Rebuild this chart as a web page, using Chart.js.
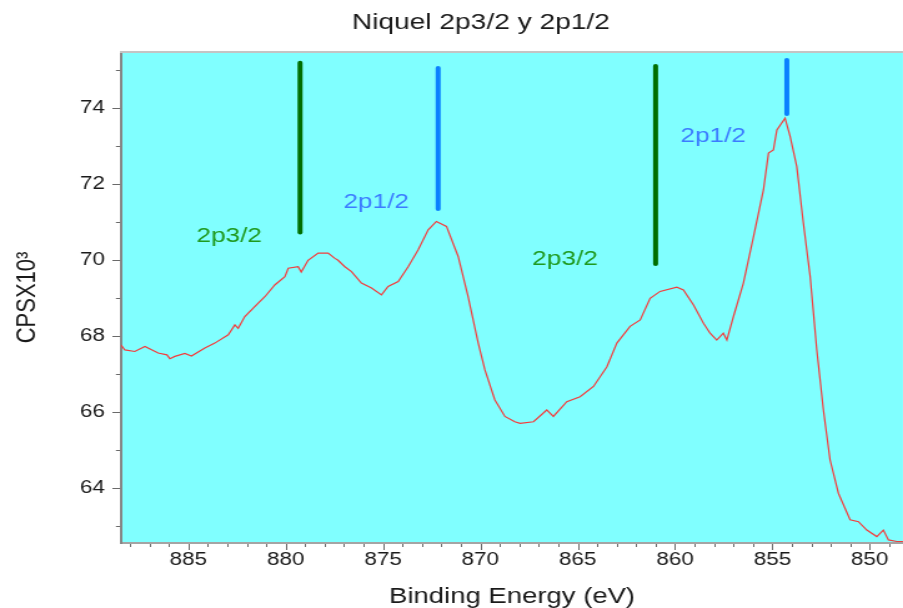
<!DOCTYPE html>
<html><head><meta charset="utf-8">
<script src="https://cdn.jsdelivr.net/npm/chart.js@4/dist/chart.umd.min.js"></script>
<style>
html,body{margin:0;padding:0;background:#fff;overflow:hidden;width:903px;height:608px;}
#wrap{width:770px;height:608px;transform:scaleX(1.249);transform-origin:0 0;}
canvas{display:block;}
</style></head><body>
<div id="wrap"><canvas id="c" width="770" height="608"></canvas></div>
<script>
// Binding energy (eV) and counts (CPS x 10^3)
const energy = [888.45, 888.26, 887.75, 887.23, 886.55, 886.10, 885.95, 885.69, 885.18, 884.84, 884.15, 883.64, 882.95,
  882.61, 882.44, 882.10, 881.41, 881.07, 880.56, 880.04, 879.87, 879.36, 879.20, 878.85, 878.33,
  877.82, 877.47, 877.31, 876.96, 876.62, 876.11, 875.59, 875.08, 874.74, 874.22, 873.71,
  873.20, 872.68, 872.26, 871.74, 871.14, 870.63, 870.11, 869.77, 869.26, 868.74,
  868.23, 867.96, 867.27, 866.59, 866.25, 865.56, 864.88, 864.19, 863.50, 862.99,
  862.31, 861.79, 861.28, 860.77, 859.91, 859.57, 859.06, 858.54, 858.20, 857.86, 857.52,
  857.34, 857.00, 856.49, 855.97, 855.46, 855.20, 854.95, 854.77, 854.35, 854.09,
  853.75, 853.41, 853.06, 852.72, 852.38, 852.04, 851.61, 851.01, 850.58, 850.15,
  849.64, 849.30, 849.04, 848.61, 848.29];
const counts = [67.76, 67.63, 67.59, 67.72, 67.55, 67.50, 67.40, 67.46, 67.54, 67.47, 67.68, 67.81, 68.03,
  68.29, 68.20, 68.51, 68.86, 69.03, 69.34, 69.56, 69.78, 69.82, 69.68, 69.99, 70.18,
  70.18, 70.04, 69.99, 69.82, 69.69, 69.39, 69.26, 69.08, 69.30, 69.43, 69.82,
  70.26, 70.79, 71.01, 70.88, 70.09, 69.03, 67.81, 67.11, 66.32, 65.88,
  65.74, 65.70, 65.74, 66.05, 65.88, 66.27, 66.40, 66.67, 67.19, 67.81,
  68.25, 68.42, 68.99, 69.17, 69.28, 69.21, 68.82, 68.33, 68.07, 67.89, 68.07,
  67.89, 68.51, 69.39, 70.61, 71.84, 72.81, 72.89, 73.42, 73.73, 73.25,
  72.46, 70.97, 69.56, 67.63, 66.05, 64.74, 63.86, 63.16, 63.11, 62.89,
  62.72, 62.89, 62.63, 62.59, 62.59];

const xTickLabels = [885, 880, 875, 870, 865, 860, 855, 850];
const yTickLabels = [64, 66, 68, 70, 72, 74];

// Peak marker bars
const markerEnergy = [879.26, 872.17, 861.00, 854.26];
const markerLow    = [70.72, 71.34, 69.89, 73.84];
const markerHigh   = [75.19, 75.05, 75.10, 75.26];
const markerName   = ['2p3/2', '2p1/2', '2p3/2', '2p1/2'];

// Annotation text anchors (data units)
const labelAnchors = [
  {text: '2p3/2', x: 882.9,  y: 70.61},
  {text: '2p1/2', x: 875.35, y: 71.53},
  {text: '2p3/2', x: 865.65, y: 70.03},
  {text: '2p1/2', x: 858.04, y: 73.26}
];

const X_MIN = 848.29, X_MAX = 888.45, Y_MIN = 62.55, Y_MAX = 75.47;
const FONT = '"Liberation Sans", Arial, sans-serif';
const BAR_COLOR = {'2p3/2': '#006e00', '2p1/2': '#0a80ff'};
const TEXT_COLOR = {'2p3/2': '#1f9a1f', '2p1/2': '#3c7cff'};

const datasets = [{
  data: energy.map((e, i) => ({x: e, y: counts[i]})),
  borderColor: '#f43c3c', borderWidth: 1.2, pointRadius: 0, tension: 0
}];
markerEnergy.forEach((e, i) => {
  datasets.push({
    data: [{x: e, y: markerLow[i]}, {x: e, y: markerHigh[i]}],
    borderColor: BAR_COLOR[markerName[i]], borderWidth: 4, borderCapStyle: 'round',
    pointRadius: 0
  });
});

const decor = {
  id: 'decor',
  beforeDraw(chart) {
    const {ctx, chartArea: a} = chart;
    ctx.save();
    ctx.fillStyle = '#80ffff';
    ctx.fillRect(a.left, a.top, a.right - a.left, a.bottom - a.top);
    ctx.restore();
  },
  afterDraw(chart) {
    const {ctx, chartArea: a, scales: {x, y}} = chart;
    ctx.save();
    ctx.strokeStyle = '#c4c4c4'; ctx.lineWidth = 2;
    ctx.beginPath(); ctx.moveTo(a.left - 1, a.top); ctx.lineTo(a.right, a.top); ctx.stroke();
    ctx.strokeStyle = '#6a6a6a'; ctx.lineWidth = 1;
    for (let v = Math.ceil(x.min); v <= Math.floor(x.max); v++) {
      const px = Math.round(x.getPixelForValue(v)) + 0.5;
      const len = v % 5 === 0 ? 6 : 3;
      ctx.beginPath(); ctx.moveTo(px, a.bottom + 1); ctx.lineTo(px, a.bottom + 1 + len); ctx.stroke();
    }
    for (let v = Math.ceil(y.min); v <= Math.floor(y.max); v++) {
      const py = Math.round(y.getPixelForValue(v)) + 0.5;
      const len = v % 2 === 0 ? 6 : 3.2;
      ctx.beginPath(); ctx.moveTo(a.left - 1, py); ctx.lineTo(a.left - 1 - len, py); ctx.stroke();
    }
    ctx.font = '21px ' + FONT;
    ctx.textAlign = 'center'; ctx.textBaseline = 'middle';
    labelAnchors.forEach(l => {
      ctx.fillStyle = TEXT_COLOR[l.text];
      ctx.fillText(l.text, x.getPixelForValue(l.x), y.getPixelForValue(l.y));
    });
    ctx.restore();
  }
};

new Chart(document.getElementById('c'), {
  type: 'line',
  data: {datasets},
  options: {
    responsive: false, animation: false, devicePixelRatio: 1,
    layout: {padding: {left: 47, right: 47, top: 0, bottom: 0}},
    plugins: {
      legend: {display: false}, tooltip: {enabled: false},
      title: {display: true, text: 'Niquel 2p3/2 y 2p1/2', color: '#1a1a1a',
        font: {family: FONT, size: 22.5, weight: 'normal', lineHeight: 1.2}, padding: {top: 9, bottom: 16}}
    },
    scales: {
      x: {
        type: 'linear', reverse: true, min: X_MIN, max: X_MAX,
        grid: {display: false, drawTicks: false},
        border: {display: true, color: '#a4a4a4', width: 2},
        afterBuildTicks: s => { const t = []; for (let v = 849; v <= 888; v++) t.push({value: v}); s.ticks = t; },
        afterFit: s => { s.height = 65; },
        ticks: {autoSkip: false, maxRotation: 0, padding: 6, color: '#1a1a1a',
          font: {family: FONT, size: 18},
          callback: v => xTickLabels.includes(v) ? String(v) : ''},
        title: {display: true, text: 'Binding Energy (eV)', color: '#1a1a1a',
          font: {family: FONT, size: 22, lineHeight: 1}, padding: {top: 0, bottom: 0}}
      },
      y: {
        type: 'linear', min: Y_MIN, max: Y_MAX,
        grid: {display: false, drawTicks: false},
        border: {display: true, color: '#858585', width: 2},
        afterBuildTicks: s => { const t = []; for (let v = 63; v <= 75; v++) t.push({value: v}); s.ticks = t; },
        afterFit: s => { s.width = 50; },
        ticks: {autoSkip: false, padding: 13, color: '#1a1a1a',
          font: {family: FONT, size: 18},
          callback: v => yTickLabels.includes(v) ? String(v) : ''},
        title: {display: true, text: 'CPSX10³', color: '#1a1a1a',
          font: {family: FONT, size: 22}, padding: {top: -37.8, bottom: 0}}
      }
    }
  },
  plugins: [decor]
});
</script>
</body></html>
